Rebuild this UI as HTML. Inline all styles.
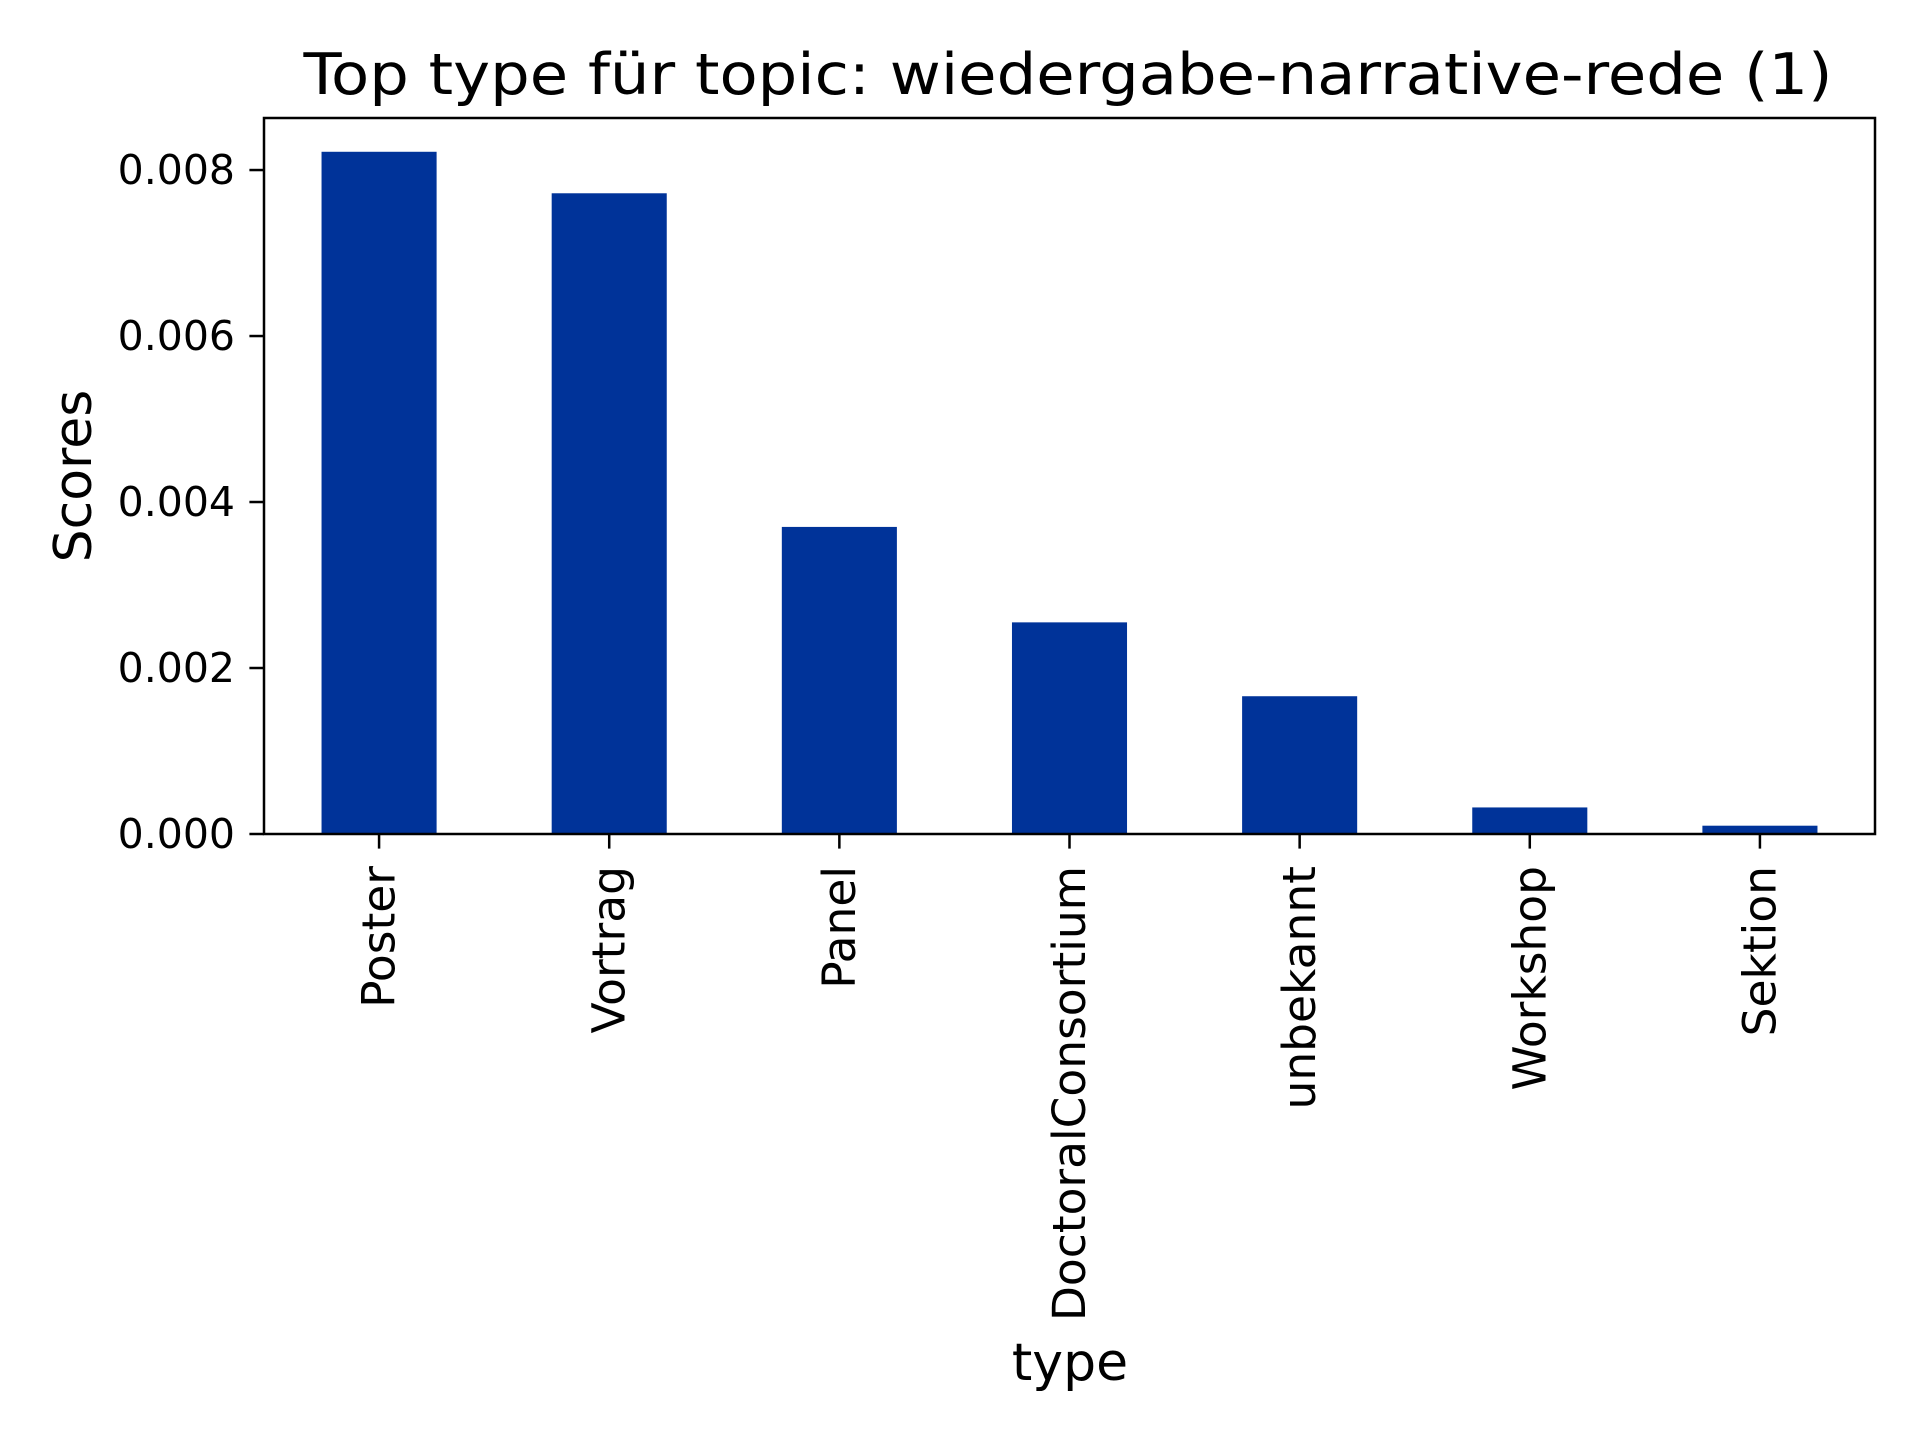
<!DOCTYPE html>
<html><head><meta charset="utf-8"><style>
html,body{margin:0;padding:0;background:#fff;}
svg{display:block;font-family:"DejaVu Sans","Liberation Sans",sans-serif;}
</style></head><body>
<svg id="chart" width="1920" height="1440" viewBox="0 0 1920 1440">
<rect width="1920" height="1440" fill="#fff"/>
<text x="1068" y="94" font-size="57" text-anchor="middle" textLength="1529" lengthAdjust="spacingAndGlyphs">Top type für topic: wiedergabe-narrative-rede (1)</text>
<g id="bars"></g>
<g id="yaxis"></g>
<g id="xaxis"></g>
<rect x="264" y="118" width="1611" height="716" fill="none" stroke="#000" stroke-width="2.5"/>
<text x="0" y="0" transform="translate(91,476) rotate(-90)" font-size="52" text-anchor="middle">Scores</text>
<text x="1070" y="1380" font-size="52" text-anchor="middle">type</text>
</svg>
<script>
const categories = ["Poster","Vortrag","Panel","DoctoralConsortium","unbekannt","Workshop","Sektion"];
const scores = [0.00822, 0.00772, 0.00370, 0.00255, 0.00166, 0.00032, 0.00010];
const yTicks = [0, 0.002, 0.004, 0.006, 0.008];
const yTickLabels = ["0.000","0.002","0.004","0.006","0.008"];

const NS = "http://www.w3.org/2000/svg";
const L = 264, R = 1875, T = 118, B = 834;
const yMax = 0.008627;
function y(v){ return B - v / yMax * (B - T); }
const unit = (R - L) / categories.length;
function x(i){ return L + (i + 0.5) * unit; }
function mk(tag, attrs, parent){ const e = document.createElementNS(NS, tag); for (const k in attrs) e.setAttribute(k, attrs[k]); parent.appendChild(e); return e; }

const bars = document.getElementById('bars');
scores.forEach((v, i) => {
  const r = mk('rect', {x: x(i) - unit*0.25, y: y(v), width: unit*0.5, height: y(0) - y(v), fill: '#003399'}, bars);
  
  
});

const ya = document.getElementById('yaxis');
yTicks.forEach((v, i) => {
  const ln = mk('line', {x1: L - 14.6, x2: L, y1: y(v), y2: y(v), stroke: '#000', 'stroke-width': 2.5}, ya);
  
  
  const t = mk('text', {x: L - 29, y: y(v), 'font-size': 41, 'text-anchor': 'end', 'dominant-baseline': 'central'}, ya);
  t.textContent = yTickLabels[i];
  
  
});

const xa = document.getElementById('xaxis');
categories.forEach((c, i) => {
  const ln = mk('line', {x1: x(i), x2: x(i), y1: B, y2: B + 14.6, stroke: '#000', 'stroke-width': 2.5}, xa);
  
  
  const t = mk('text', {x: 0, y: 0, transform: 'translate(' + x(i) + ',' + (B + 32) + ') rotate(-90)', 'font-size': 45.5, 'text-anchor': 'end', 'dominant-baseline': 'central'}, xa);
  t.textContent = c;
  
  
});
</script>
</body></html>
